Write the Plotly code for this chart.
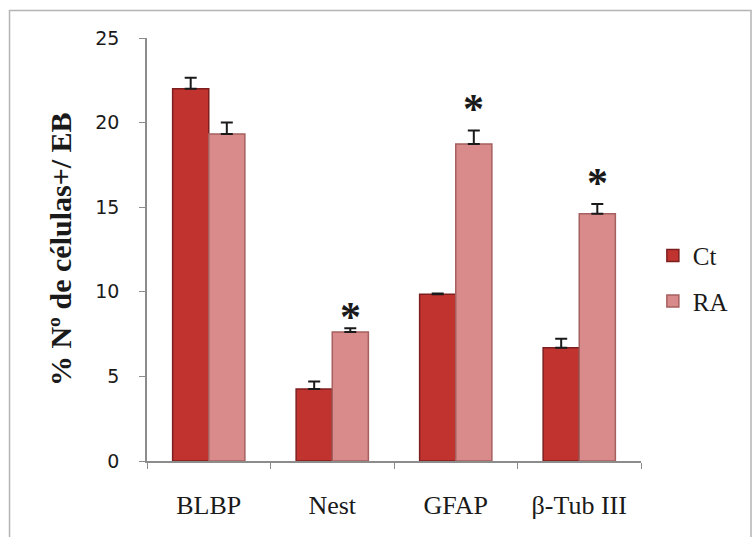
import plotly.graph_objects as go

categories = ["BLBP", "Nest", "GFAP", "β-Tub III"]
ct_values = [22.0, 4.25, 9.85, 6.7]
ct_errors = [0.65, 0.45, 0.05, 0.53]
ra_values = [19.33, 7.63, 18.74, 14.62]
ra_errors = [0.67, 0.22, 0.79, 0.57]
star_y = [None, 9.0, 21.3, 16.9]
y_ticks = [0, 5, 10, 15, 20, 25]

fig = go.Figure()
fig.add_trace(go.Bar(
    name="Ct", x=categories, y=ct_values, legendgroup="ct",
    marker=dict(color="#c0332f", line=dict(color="#7d1f1f", width=1.5)),
    error_y=dict(type="data", symmetric=False, array=ct_errors, arrayminus=[0]*4,
                 color="#1a1a1a", thickness=2, width=6),
))
fig.add_trace(go.Bar(
    name="RA", x=categories, y=ra_values, legendgroup="ra",
    marker=dict(color="#d98a8b", line=dict(color="#a5605f", width=1.5)),
    error_y=dict(type="data", symmetric=False, array=ra_errors, arrayminus=[0]*4,
                 color="#1a1a1a", thickness=2, width=6),
))

for c, s in zip(categories, star_y):
    if s is None:
        continue
    fig.add_annotation(x=c, y=s, xref="x", yref="y", text="*", showarrow=False,
                       xshift=18, yshift=-8,
                       font=dict(family="Liberation Serif", size=42, color="#1a1a1a",
                                 weight="bold"))

fig.add_annotation(x=-0.175, y=0.5, xref="paper", yref="paper",
                   text="% Nº de células+/ EB", textangle=-90, showarrow=False,
                   xanchor="center", yanchor="middle",
                   font=dict(family="Liberation Serif", size=30, color="#1a1a1a",
                             weight="bold"))

fig.add_shape(type="rect", xref="paper", yref="paper",
              x0=-0.2783, x1=1.2227, y0=-0.2, y1=1.065,
              line=dict(color="#b4b4b4", width=1.5))

fig.update_layout(
    width=753, height=537,
    margin=dict(l=147, r=112, t=38, b=76),
    paper_bgcolor="white", plot_bgcolor="white",
    barmode="group", bargap=0.415, bargroupgap=0,
    showlegend=True,
    legend=dict(x=1.024, y=0.432, xanchor="left", yanchor="middle",
                font=dict(family="Liberation Serif", size=25, color="#1a1a1a"),
                tracegroupgap=10, bgcolor="rgba(0,0,0,0)"),
    xaxis=dict(type="category", tickson="boundaries", ticks="outside", ticklen=6,
               tickcolor="#8c8c8c", showline=True, linecolor="#8c8c8c", linewidth=1.5,
               showgrid=False, ticklabelstandoff=20,
               tickfont=dict(family="Liberation Serif", size=26, color="#1a1a1a")),
    yaxis=dict(range=[0, 25], tickvals=y_ticks, ticks="outside", ticklen=6,
               tickcolor="#8c8c8c", showline=True, linecolor="#8c8c8c", linewidth=1.5,
               showgrid=False, zeroline=False, ticklabelstandoff=16,
               tickfont=dict(family="DejaVu Sans", size=19, color="#1a1a1a")),
)

fig.write_html("out.html", config={"displayModeBar": False},
               post_script="document.body.style.margin='0';document.body.style.overflow='hidden';")
